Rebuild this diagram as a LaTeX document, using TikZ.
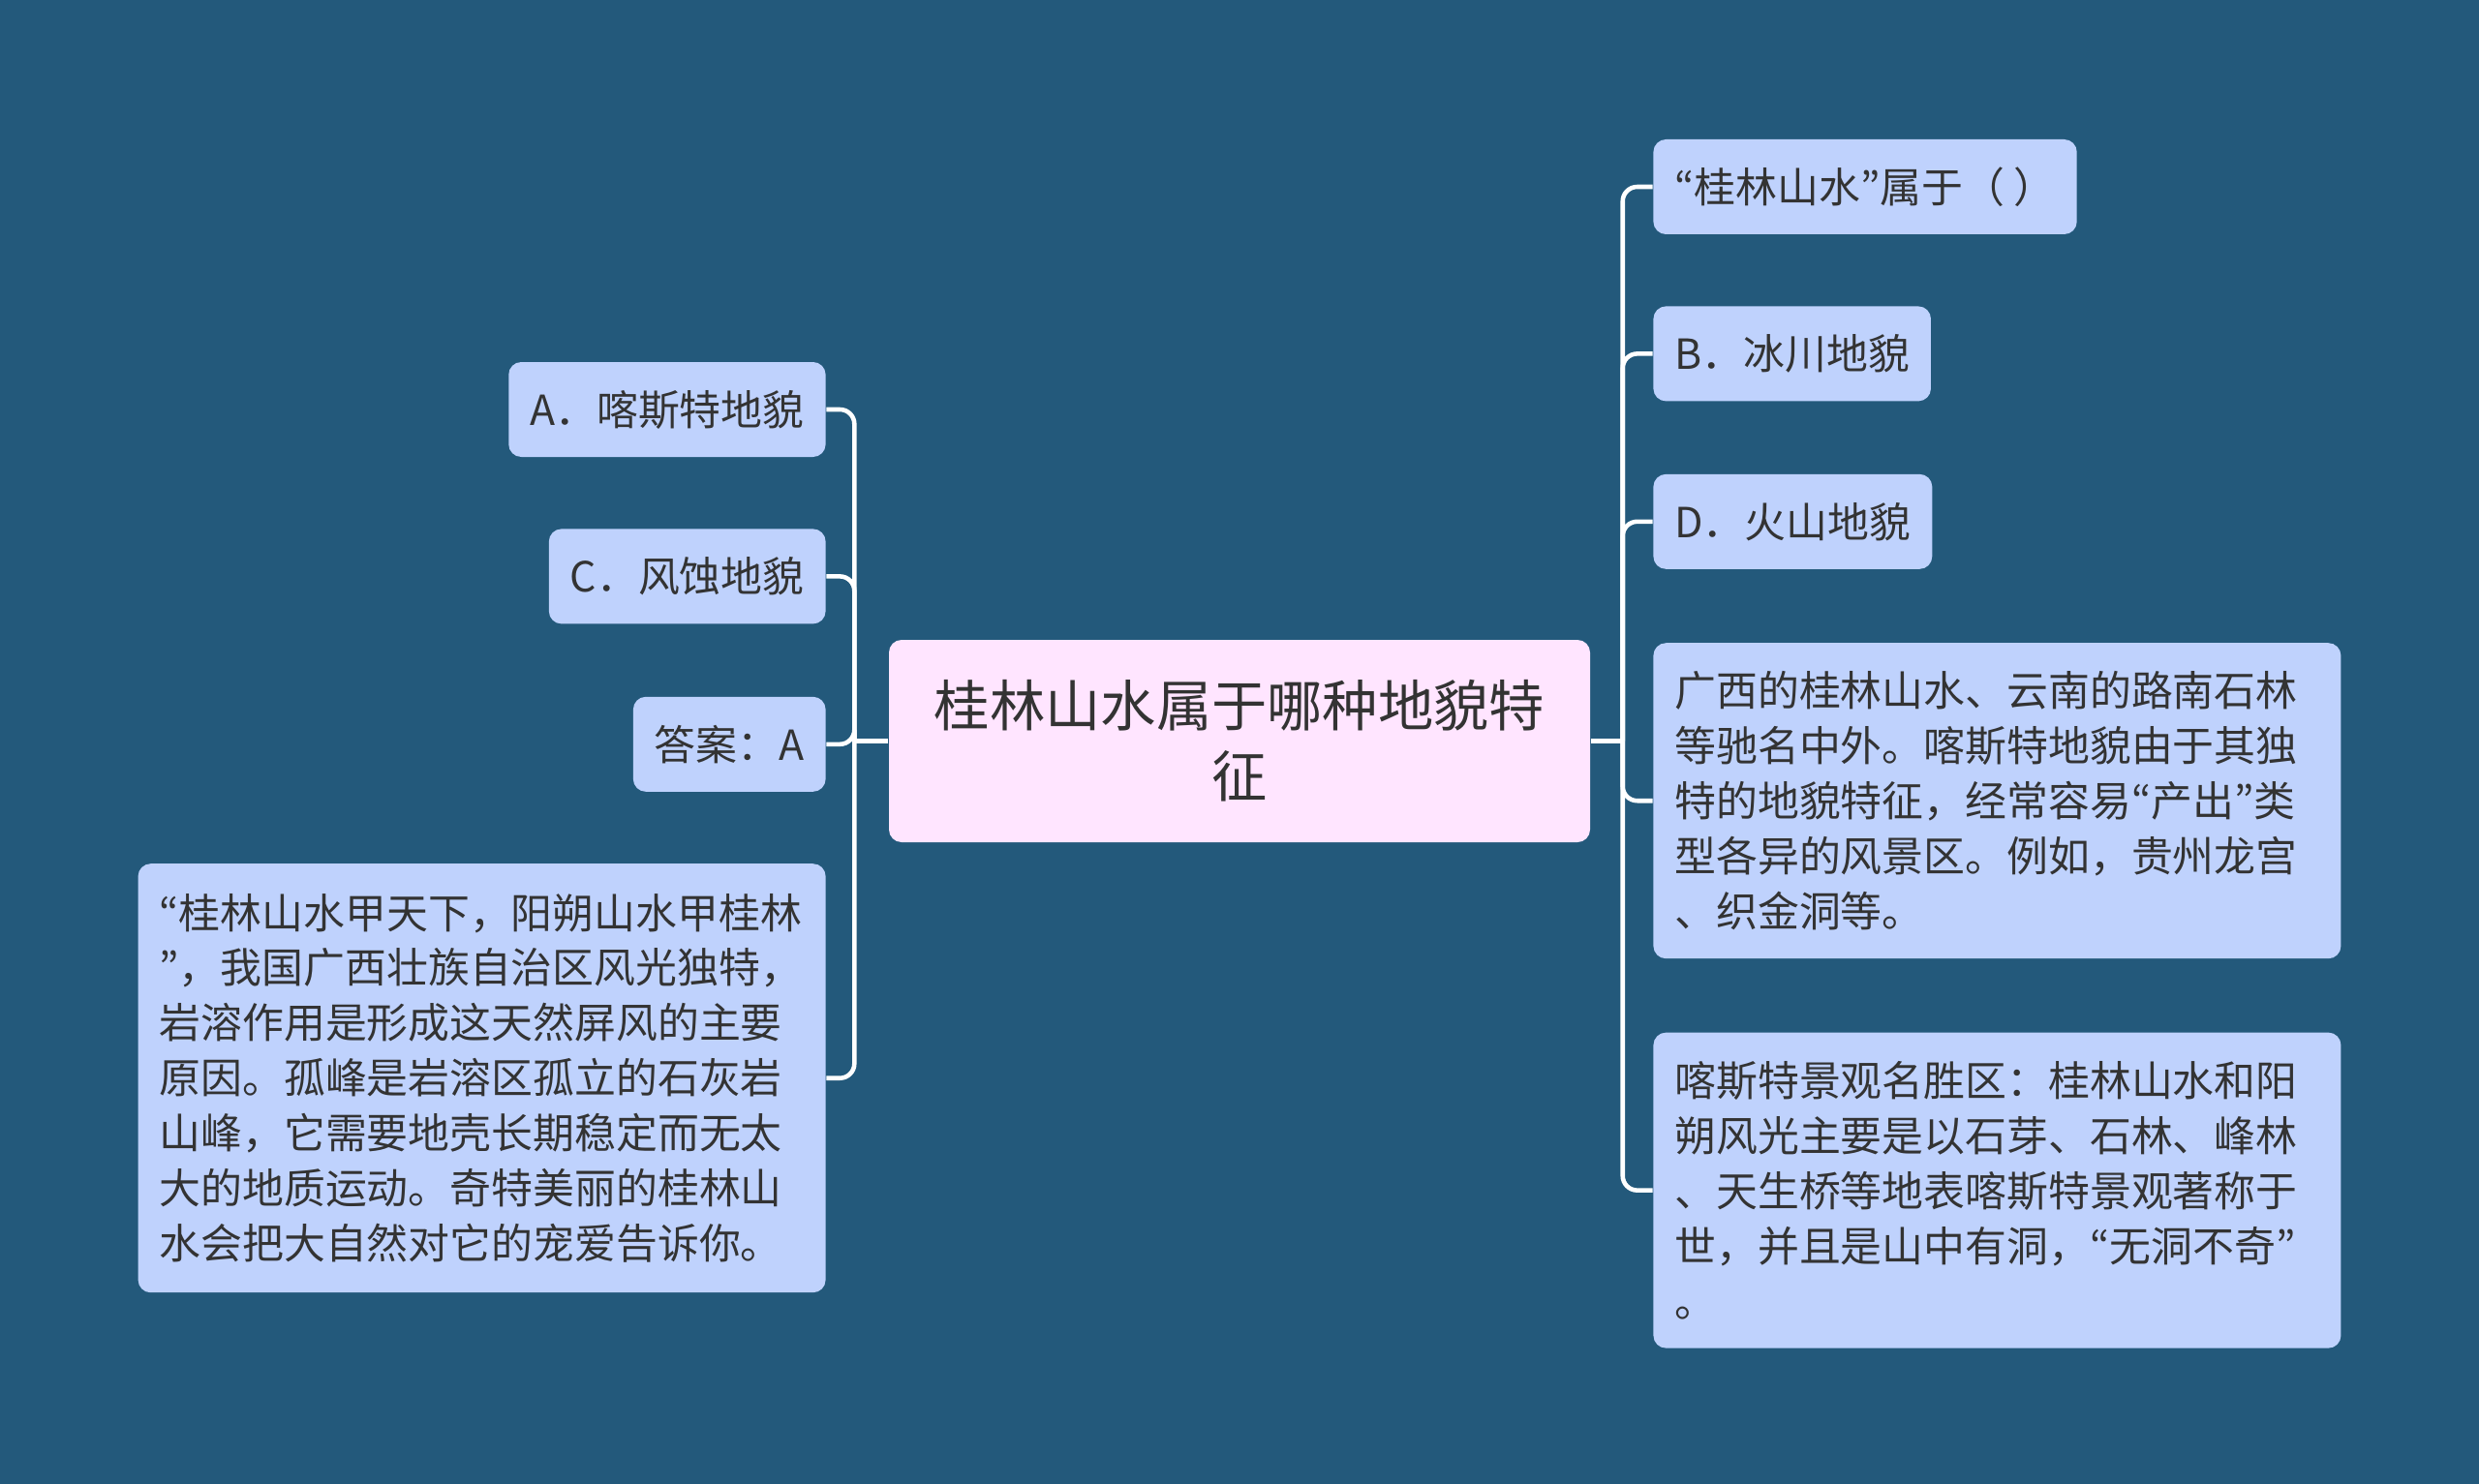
\documentclass[tikz,border=0pt]{standalone}
\usepackage{fontspec}
\newfontfamily\cjk{Noto Sans CJK SC}
\newfontfamily\cjkq{Noto Sans CJK JP}
\newcommand\oq{{\cjkq “}}
\newcommand\cq{{\cjkq ”}}
\usepackage{xcolor}
\usetikzlibrary{positioning}
\definecolor{bgblue}{HTML}{23597B}
\definecolor{leafblue}{HTML}{BFD2FD}
\definecolor{rootpink}{HTML}{FFE5FF}
\definecolor{inkgray}{HTML}{333333}

\begin{document}
\begin{tikzpicture}[
    box/.style={rectangle, rounded corners=0.13cm, text=inkgray, inner xsep=0.22cm,
                inner ysep=0cm, font=\cjk\fontsize{12.2pt}{16.2pt}\selectfont},
    rootbox/.style={box, fill=rootpink, minimum width=7.24cm, minimum height=2.09cm,
                align=center, font=\cjk\fontsize{16.3pt}{20.8pt}\selectfont},
    leaf/.style={box, fill=leafblue, minimum height=0.98cm},
    para/.style={box, fill=leafblue, align=left, text width=6.66cm},
    link/.style={draw=white, line width=1.3pt},
]

% Background
\fill[bgblue] (0,0) rectangle (25.6,-15.33);

% Root
\node[rootbox] (root) at (12.80,-7.655) {桂林山水属于哪种地貌特\\征};

% Left branch
\node[leaf, above left=2.87cm and 0.64cm of root.north west, anchor=north east] (optA) {A．喀斯特地貌};
\node[leaf, below=0.73cm of optA.south east, anchor=north east] (optC) {C．风蚀地貌};
\node[leaf, below=0.74cm of optC.south east, anchor=north east] (answer) {答案：A};
\node[para, minimum height=4.43cm, below=0.73cm of answer.south east, anchor=north east] (notel) {\oq 桂林山水甲天下，阳朔山水甲桂林\\\cq，我国广西壮族自治区风光独特，\\岩溶作用是形成这天然屏风的主要\\原因。孤峰是岩溶区孤立的石灰岩\\山峰，它需要地壳长期稳定而无太\\大的地质运动。奇特美丽的桂林山\\水会把大自然对它的宠爱告诉你。};

% Right branch
\node[leaf, above right=5.17cm and 0.64cm of root.north east, anchor=north west] (quest) {\oq 桂林山水\cq 属于（ ）};
\node[leaf, below=0.73cm of quest.south west, anchor=north west] (optB) {B．冰川地貌};
\node[leaf, below=0.74cm of optB.south west, anchor=north west] (optD) {D．火山地貌};
\node[para, minimum height=3.26cm, below=0.75cm of optD.south west, anchor=north west] (parakarst) {广西的桂林山水、云南的路南石林\\等驰名中外。喀斯特地貌由于其独\\特的地貌特征，经常容易\oq 产出\cq 类\\型各异的风景区。例如，贵州龙宫\\、织金洞等。};
\node[para, minimum height=3.26cm, below=0.75cm of parakarst.south west, anchor=north west] (parascene) {喀斯特景观名胜区：桂林山水和阳\\朔风光主要是以石芽、石林、峰林\\、天生桥等地表喀斯特景观著称于\\世，并且是山中有洞，\oq 无洞不奇\cq\\。};

% Connectors
\draw[link] (root.west) -- ++(-0.35,0) coordinate (ltrunk);
\draw[link] (root.east) -- ++(0.33,0) coordinate (rtrunk);
\foreach \kid in {optA, optC, answer, notel}
    \draw[link, rounded corners=0.15cm] (ltrunk) |- (\kid.east);
\foreach \kid in {quest, optB, optD, parakarst, parascene}
    \draw[link, rounded corners=0.15cm] (rtrunk) |- (\kid.west);

\end{tikzpicture}
\end{document}
